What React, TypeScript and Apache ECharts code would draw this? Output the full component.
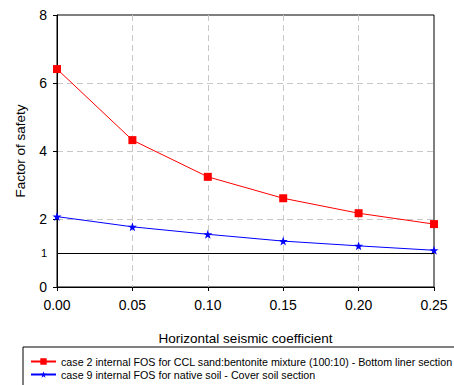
import React, { useEffect, useRef } from "react";
import * as echarts from "echarts";

const xValues = [0.0, 0.05, 0.1, 0.15, 0.2, 0.25];
const case2Values = [6.41, 4.32, 3.24, 2.61, 2.17, 1.85];
const case9Values = [2.07, 1.77, 1.55, 1.35, 1.21, 1.08];
const case2Name = "case 2 internal FOS for CCL sand:bentonite mixture (100:10) - Bottom liner section";
const case9Name = "case 9 internal FOS for native soil - Cover soil section";
const referenceLine = 1;

export default function App() {
  const ref = useRef<HTMLDivElement>(null);
  useEffect(() => {
    if (!ref.current) return;
    const chart = echarts.init(ref.current, null, { renderer: "svg" });
    const font = "'Liberation Sans', Arial, sans-serif";
    const legendCommon = {
      orient: "horizontal",
      left: 30,
      padding: 0,
      itemWidth: 25,
      itemHeight: 8,
      textStyle: { fontFamily: font, fontSize: 10.7, color: "#000" },
    };
    chart.setOption({
      animation: false,
      grid: { left: 57, right: 20, top: 15, bottom: 98, show: true, borderColor: "#000", borderWidth: 1 },
      xAxis: {
        type: "value",
        min: 0,
        max: 0.25,
        interval: 0.05,
        name: "Horizontal seismic coefficient",
        nameLocation: "middle",
        nameGap: 44,
        nameTextStyle: { fontFamily: font, fontSize: 13.5, color: "#000" },
        axisLine: { lineStyle: { color: "#000" } },
        axisTick: { show: true, length: 4, lineStyle: { color: "#000" } },
        axisLabel: { fontFamily: font, fontSize: 14, color: "#000", margin: 11, formatter: (v: number) => v.toFixed(2) },
        splitLine: { show: true, showMinLine: false, showMaxLine: false, lineStyle: { color: "#c8c8c8", type: [6, 4] } },
      },
      yAxis: {
        type: "value",
        min: 0,
        max: 8,
        interval: 2,
        name: "Factor of safety",
        nameLocation: "middle",
        nameGap: 30,
        nameTextStyle: { fontFamily: font, fontSize: 13.5, color: "#000" },
        axisLine: { show: true, lineStyle: { color: "#000" } },
        axisTick: { show: true, length: 4, lineStyle: { color: "#000" } },
        axisLabel: { fontFamily: font, fontSize: 14, color: "#000", margin: 10 },
        splitLine: { show: true, showMinLine: false, showMaxLine: false, lineStyle: { color: "#c8c8c8", type: [6, 4] } },
      },
      legend: [
        { ...legendCommon, top: 356, data: [case2Name] },
        { ...legendCommon, top: 369, data: [case9Name] },
      ],
      graphic: [
        {
          type: "rect",
          shape: { x: 23, y: 347, width: 440, height: 50 },
          style: { fill: "none", stroke: "#000", lineWidth: 1 },
          silent: true,
        },
      ],
      series: [
        {
          name: case2Name,
          type: "line",
          data: xValues.map((x, i) => [x, case2Values[i]]),
          symbol: "rect",
          symbolSize: 8,
          itemStyle: { color: "#ff0000" },
          lineStyle: { color: "#ff0000", width: 1 },
          markLine: {
            silent: true,
            symbol: "none",
            lineStyle: { color: "#000", type: "solid", width: 1 },
            label: { position: "start", formatter: String(referenceLine), fontFamily: font, fontSize: 11, color: "#000", distance: 10 },
            data: [{ yAxis: referenceLine }],
          },
        },
        {
          name: case9Name,
          type: "line",
          data: xValues.map((x, i) => [x, case9Values[i]]),
          symbol: "path://M50,0 L61.8,35.1 L98.6,35.1 L68.8,56.8 L80.1,91.9 L50,70.2 L19.9,91.9 L31.2,56.8 L1.4,35.1 L38.2,35.1 Z",
          symbolSize: 9,
          itemStyle: { color: "#0000ff" },
          lineStyle: { color: "#0000ff", width: 1 },
        },
      ],
    });
    return () => chart.dispose();
  }, []);
  return <div ref={ref} style={{ width: 454, height: 385, position: "absolute", left: 0, top: 0 }} />;
}
